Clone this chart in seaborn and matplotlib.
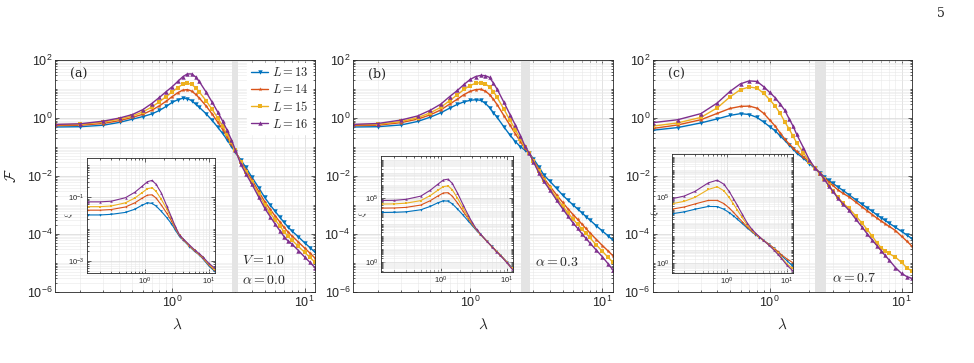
import numpy as np
import pandas as pd
import matplotlib
matplotlib.use("Agg")
import matplotlib.pyplot as plt
import matplotlib.ticker as mticker
import seaborn as sns

sns.set_style("ticks")
plt.rcParams["font.family"] = ["Liberation Sans", "DejaVu Sans"]

# system sizes, colours, markers (MATLAB defaults)
sizes = [13, 14, 15, 16]
colors = ["#0072BD", "#D95319", "#EDB120", "#7E2F8E"]
marks = ["v", "*", "s", "^"]

# lambda grid of main panels
lam = [0.13, 0.2, 0.3, 0.4, 0.5, 0.6, 0.7, 0.8, 0.9, 1.0, 1.1, 1.2, 1.3, 1.4, 1.5, 1.6, 1.8, 2.0, 2.2,
       2.4, 2.6, 2.8, 3.0, 3.3, 3.6, 4.0, 4.5, 5.0, 5.5, 6.0, 6.5, 7.0, 7.5, 8.0, 9.0, 10.0, 11.0, 12.0]

# log10(F), panel (a), alpha = 0.0
a13 = [-0.31, -0.30, -0.25, -0.15, -0.04, 0.05, 0.14, 0.26, 0.40, 0.54, 0.63, 0.68, 0.67, 0.60, 0.48, 0.37, 0.15, -0.08, -0.31,
       -0.53, -0.75, -0.98, -1.18, -1.45, -1.70, -2.04, -2.40, -2.74, -3.00, -3.22, -3.42, -3.60, -3.76, -3.89, -4.10, -4.30, -4.47, -4.63]
a14 = [-0.26, -0.25, -0.19, -0.09, 0.02, 0.13, 0.27, 0.42, 0.58, 0.74, 0.87, 0.96, 0.98, 0.93, 0.82, 0.69, 0.42, 0.14, -0.13,
       -0.39, -0.65, -0.90, -1.15, -1.50, -1.79, -2.13, -2.53, -2.88, -3.15, -3.38, -3.58, -3.77, -3.93, -4.06, -4.28, -4.48, -4.66, -4.83]
a15 = [-0.23, -0.22, -0.14, -0.04, 0.07, 0.21, 0.38, 0.56, 0.74, 0.90, 1.05, 1.16, 1.20, 1.16, 1.05, 0.90, 0.60, 0.30, 0.01,
       -0.28, -0.56, -0.84, -1.12, -1.53, -1.85, -2.20, -2.62, -2.99, -3.27, -3.51, -3.72, -3.92, -4.08, -4.20, -4.43, -4.63, -4.81, -4.97]
a16 = [-0.22, -0.20, -0.11, 0.00, 0.12, 0.29, 0.50, 0.71, 0.91, 1.08, 1.26, 1.42, 1.52, 1.52, 1.42, 1.26, 0.90, 0.55, 0.22,
       -0.10, -0.42, -0.75, -1.10, -1.60, -1.92, -2.28, -2.72, -3.11, -3.40, -3.66, -3.88, -4.09, -4.24, -4.34, -4.57, -4.79, -4.98, -5.16]

# panel (b), alpha = 0.3
b13 = [-0.31, -0.30, -0.24, -0.12, 0.03, 0.18, 0.34, 0.47, 0.56, 0.61, 0.63, 0.61, 0.51, 0.36, 0.18, 0.02, -0.31, -0.59, -0.82,
       -0.99, -1.11, -1.22, -1.40, -1.68, -1.96, -2.18, -2.43, -2.66, -2.84, -3.00, -3.14, -3.27, -3.40, -3.51, -3.72, -3.90, -4.06, -4.21]
b14 = [-0.26, -0.25, -0.16, -0.04, 0.11, 0.28, 0.48, 0.65, 0.81, 0.92, 0.98, 0.99, 0.93, 0.81, 0.64, 0.46, 0.08, -0.25, -0.55,
       -0.82, -1.05, -1.22, -1.45, -1.77, -2.07, -2.35, -2.65, -2.91, -3.14, -3.33, -3.50, -3.66, -3.81, -3.95, -4.19, -4.40, -4.58, -4.75]
b15 = [-0.23, -0.22, -0.12, 0.01, 0.18, 0.37, 0.60, 0.80, 0.99, 1.12, 1.20, 1.22, 1.18, 1.07, 0.91, 0.71, 0.30, -0.08, -0.41,
       -0.73, -1.01, -1.22, -1.48, -1.83, -2.13, -2.43, -2.75, -3.03, -3.28, -3.49, -3.67, -3.83, -3.98, -4.12, -4.38, -4.60, -4.80, -4.97]
b16 = [-0.22, -0.19, -0.07, 0.07, 0.27, 0.48, 0.74, 0.95, 1.16, 1.33, 1.43, 1.47, 1.46, 1.40, 1.20, 0.99, 0.54, 0.12, -0.25,
       -0.61, -0.98, -1.22, -1.50, -1.89, -2.18, -2.48, -2.83, -3.13, -3.39, -3.62, -3.81, -3.99, -4.15, -4.30, -4.56, -4.79, -5.02, -5.24]

# panel (c), alpha = 0.7
c13 = [-0.42, -0.33, -0.17, -0.03, 0.09, 0.15, 0.12, 0.02, -0.14, -0.30, -0.44, -0.62, -0.77, -0.93, -1.06, -1.21, -1.39, -1.57, -1.74,
       -1.89, -2.03, -2.15, -2.25, -2.38, -2.50, -2.65, -2.82, -2.97, -3.10, -3.22, -3.34, -3.44, -3.53, -3.62, -3.77, -3.91, -4.04, -4.16]
c14 = [-0.36, -0.24, -0.06, 0.16, 0.33, 0.40, 0.41, 0.34, 0.16, -0.07, -0.28, -0.52, -0.72, -0.89, -1.02, -1.15, -1.33, -1.52, -1.71,
       -1.89, -2.06, -2.20, -2.32, -2.48, -2.60, -2.72, -2.90, -3.06, -3.20, -3.33, -3.45, -3.55, -3.64, -3.73, -3.88, -4.08, -4.25, -4.42]
c15 = [-0.28, -0.17, 0.02, 0.35, 0.73, 0.98, 1.07, 1.03, 0.85, 0.63, 0.41, 0.16, -0.13, -0.37, -0.62, -0.85, -1.20, -1.50, -1.72,
       -1.92, -2.12, -2.32, -2.50, -2.74, -2.94, -3.12, -3.38, -3.62, -3.85, -4.08, -4.30, -4.47, -4.59, -4.67, -4.80, -4.98, -5.17, -5.28]
c16 = [-0.16, -0.06, 0.15, 0.52, 0.92, 1.18, 1.28, 1.26, 1.08, 0.88, 0.70, 0.48, 0.27, -0.02, -0.27, -0.56, -1.02, -1.45, -1.72,
       -1.90, -2.12, -2.33, -2.52, -2.77, -2.97, -3.18, -3.49, -3.75, -4.00, -4.21, -4.40, -4.57, -4.74, -4.88, -5.16, -5.36, -5.47, -5.53]

# inset grid and log10 values
lam_in = [0.13, 0.2, 0.3, 0.5, 0.7, 0.9, 1.1, 1.3, 1.5, 1.8, 2.2, 2.6, 3.0, 3.5, 4.0, 5.0, 6.0, 7.0, 8.0, 10.0, 12.0]
ia13 = [-1.56, -1.56, -1.54, -1.48, -1.38, -1.26, -1.18, -1.20, -1.28, -1.44, -1.64, -1.83, -2.03, -2.24, -2.35, -2.55, -2.70, -2.80, -2.92, -3.15, -3.30]
ia14 = [-1.41, -1.41, -1.39, -1.31, -1.18, -1.04, -0.94, -0.93, -1.03, -1.24, -1.50, -1.74, -1.98, -2.21, -2.33, -2.53, -2.68, -2.79, -2.90, -3.12, -3.27]
ia15 = [-1.30, -1.30, -1.28, -1.18, -1.03, -0.87, -0.74, -0.71, -0.82, -1.06, -1.37, -1.66, -1.94, -2.20, -2.32, -2.52, -2.67, -2.78, -2.88, -3.10, -3.24]
ia16 = [-1.15, -1.15, -1.13, -1.02, -0.85, -0.67, -0.52, -0.48, -0.60, -0.86, -1.27, -1.62, -1.92, -2.19, -2.31, -2.50, -2.65, -2.76, -2.86, -3.07, -3.20]

ib13 = [3.87, 3.88, 3.92, 4.08, 4.35, 4.62, 4.78, 4.76, 4.55, 4.15, 3.65, 3.22, 2.85, 2.45, 2.15, 1.62, 1.20, 0.85, 0.55, 0.02, -0.45]
ib14 = [4.21, 4.22, 4.27, 4.45, 4.80, 5.15, 5.40, 5.42, 5.15, 4.62, 3.95, 3.40, 2.95, 2.50, 2.17, 1.62, 1.20, 0.85, 0.55, 0.00, -0.50]
ib15 = [4.53, 4.54, 4.60, 4.80, 5.20, 5.60, 5.90, 5.95, 5.65, 5.00, 4.20, 3.55, 3.03, 2.52, 2.18, 1.62, 1.18, 0.82, 0.52, -0.03, -0.52]
ib16 = [4.81, 4.82, 4.90, 5.15, 5.62, 6.07, 6.42, 6.48, 6.15, 5.40, 4.45, 3.70, 3.10, 2.55, 2.20, 1.62, 1.18, 0.80, 0.50, -0.05, -0.55]

ic13 = [3.72, 3.85, 4.05, 4.26, 4.25, 4.05, 3.80, 3.55, 3.30, 2.98, 2.62, 2.35, 2.12, 1.90, 1.72, 1.40, 1.10, 0.82, 0.55, 0.15, -0.20]
ic14 = [4.07, 4.22, 4.45, 4.72, 4.72, 4.48, 4.15, 3.82, 3.50, 3.12, 2.70, 2.40, 2.15, 1.92, 1.73, 1.40, 1.12, 0.86, 0.62, 0.28, 0.05]
ic15 = [4.48, 4.65, 4.95, 5.55, 5.75, 5.45, 4.95, 4.45, 4.00, 3.45, 2.85, 2.45, 2.18, 1.94, 1.72, 1.35, 1.02, 0.70, 0.40, -0.10, -0.40]
ic16 = [4.86, 5.05, 5.40, 6.05, 6.25, 5.95, 5.40, 4.85, 4.35, 3.70, 3.00, 2.55, 2.25, 1.97, 1.72, 1.33, 0.98, 0.65, 0.35, -0.20, -0.55]

# grey band around the crossing point
bands = [(2.82, 3.12), (2.43, 2.83), (2.20, 2.68)]
alphas = ["0.0", "0.3", "0.7"]
tags = ["(a)", "(b)", "(c)"]


def frame(x, curves):
    parts = []
    for L, vals in zip(sizes, curves):
        parts.append(pd.DataFrame({"lam": x, "F": 10.0 ** np.array(vals), "L": str(L)}))
    return pd.concat(parts, ignore_index=True)


def draw(ax, df, ms, lw):
    ax.set_xscale("log")
    ax.set_yscale("log")
    sns.lineplot(data=df, x="lam", y="F", hue="L", style="L", markers=marks, dashes=False,
                 palette=colors, ax=ax, legend=False, errorbar=None, markersize=ms,
                 linewidth=lw, markeredgewidth=0)
    ax.set_xlabel("")
    ax.set_ylabel("")


def dress(ax, lsize):
    ax.xaxis.set_major_locator(mticker.LogLocator(base=10, numticks=10))
    ax.xaxis.set_minor_locator(mticker.LogLocator(base=10, subs=np.arange(2, 10), numticks=30))
    ax.xaxis.set_minor_formatter(mticker.NullFormatter())
    ax.yaxis.set_minor_locator(mticker.LogLocator(base=10, subs=np.arange(1, 10), numticks=30))
    ax.yaxis.set_minor_formatter(mticker.NullFormatter())
    ax.grid(which="major", color="#d6d6d6", lw=0.5)
    ax.grid(which="minor", color="#e8e8e8", lw=0.4)
    ax.set_axisbelow(True)
    ax.tick_params(which="both", direction="in", top=True, right=True, colors="#262626",
                   labelsize=lsize, pad=2, width=0.5)
    ax.tick_params(which="major", length=3)
    ax.tick_params(which="minor", length=1.5)
    for s in ax.spines.values():
        s.set_color("#262626")
        s.set_linewidth(0.6)


fig = plt.figure(figsize=(9.74, 3.63), dpi=100)

mains = [[a13, a14, a15, a16], [b13, b14, b15, b16], [c13, c14, c15, c16]]
insets = [[ia13, ia14, ia15, ia16], [ib13, ib14, ib15, ib16], [ic13, ic14, ic15, ic16]]
main_rects = [[0.0565, 0.1956, 0.2669, 0.6391], [0.3624, 0.1956, 0.2669, 0.6391], [0.6704, 0.1956, 0.2659, 0.6391]]
inset_rects = [[0.0893, 0.2479, 0.1314, 0.3168], [0.3912, 0.2507, 0.1355, 0.3196], [0.6899, 0.2479, 0.1242, 0.3278]]
inset_ylims = [(10 ** -3.375, 10 ** 0.22), (10 ** -0.8, 10 ** 8.3), (10 ** -0.78, 10 ** 8.23)]
inset_yticks = [[1e-3, 1e-1], [1.0, 1e5], [1.0, 1e5]]
note_pos = [(0.72, 0.052), (0.70, 0.129), (0.69, 0.06)]

for i in range(3):
    ax = fig.add_axes(main_rects[i])
    ax.axvspan(bands[i][0], bands[i][1], color="#e4e4e4", lw=0, zorder=1)
    draw(ax, frame(lam, mains[i]), 3.2, 1.0)
    ax.set_xlim(0.13, 12)
    ax.set_ylim(1e-6, 1e2)
    dress(ax, 9)
    ax.yaxis.set_major_locator(mticker.LogLocator(base=100, numticks=10))
    ax.yaxis.set_minor_locator(mticker.LogLocator(base=10, subs=np.arange(1, 10), numticks=30))
    ax.yaxis.set_minor_formatter(mticker.NullFormatter())
    ax.set_xlabel(r"$\lambda$", fontsize=11, math_fontfamily="cm")
    ax.xaxis.set_label_coords(0.47 if i == 0 else 0.5, -0.11)
    ax.text(0.058, 0.965, tags[i], transform=ax.transAxes, fontsize=9, va="top",
            family="DejaVu Serif")
    ax.text(note_pos[i][0], note_pos[i][1], r"$\alpha = %s$" % alphas[i], transform=ax.transAxes,
            fontsize=10, math_fontfamily="cm", va="center")
    if i == 0:
        ax.text(0.72, 0.138, r"$V = 1.0$", transform=ax.transAxes, fontsize=10,
                math_fontfamily="cm", va="center")
        ax.set_ylabel(r"$\mathcal{F}$", fontsize=11, math_fontfamily="cm")
        ax.yaxis.set_label_coords(-0.14, 0.5)
        leg = ax.legend(ax.lines[:4], [r"$L = %d$" % L for L in sizes], loc="upper right",
                        bbox_to_anchor=(1.0, 1.0), frameon=True, fancybox=False, framealpha=1,
                        facecolor="white", edgecolor="white",
                        prop={"size": 9, "math_fontfamily": "cm"}, handlelength=1.4,
                        handletextpad=0.3, labelspacing=0.3, borderpad=0.3, borderaxespad=0.2)

    ins = fig.add_axes(inset_rects[i])
    ins.set_facecolor("white")
    draw(ins, frame(lam_in, insets[i]), 1.8, 0.8)
    ins.set_xlim(0.125, 12.5)
    ins.set_ylim(*inset_ylims[i])
    dress(ins, 5.5)
    ins.yaxis.set_major_locator(mticker.FixedLocator(inset_yticks[i]))
    ins.set_ylabel(r"$\xi$", fontsize=6, math_fontfamily="cm")
    ins.yaxis.set_label_coords(-0.09, 0.5)

fig.text(0.966, 0.962, "5", fontsize=9, family="DejaVu Serif", ha="center", va="center")

fig.savefig("out.png", dpi=100)
